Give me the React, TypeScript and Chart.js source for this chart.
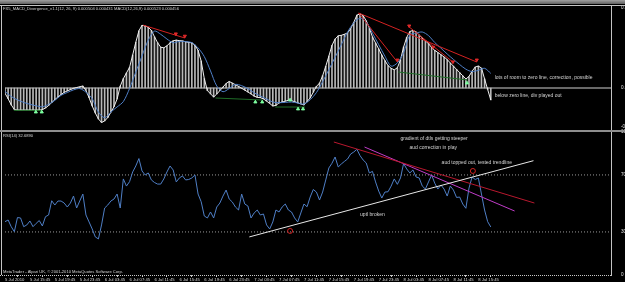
import React, { useEffect, useRef } from "react";
import { Chart, registerables } from "chart.js";

Chart.register(...registerables);

const FONT = '"Liberation Sans", Arial, sans-serif';

// time axis: one label every 16 bars (M15 chart, 4 hours)
const timeLabels = [
  "5 Jul 2010", "5 Jul 15:45", "5 Jul 19:45", "5 Jul 23:45", "6 Jul 03:45",
  "6 Jul 07:45", "6 Jul 11:45", "6 Jul 15:45", "6 Jul 19:45", "6 Jul 23:45",
  "7 Jul 03:45", "7 Jul 07:45", "7 Jul 11:45", "7 Jul 15:45", "7 Jul 19:45",
  "7 Jul 23:45", "8 Jul 03:45", "8 Jul 07:45", "8 Jul 11:45", "8 Jul 15:45",
];
const timeTickBars = [0, 16, 32, 48, 64, 80, 96, 112, 128, 144, 160, 176, 192, 208, 224, 240, 256, 272, 288, 304];
const X_MAX = 389.2; // bars visible incl. right shift

const HIST_STEP = 2; // bars between histogram / RSI samples
const SIGNAL_STEP = 4; // bars between signal samples

// MACD histogram (main)
const macdHist = [
  -1.40e-4, -2.82e-4, -4.44e-4, -5.68e-4, -5.81e-4, -5.81e-4, -5.81e-4, -5.81e-4, -5.81e-4, -5.81e-4,
  -5.81e-4, -5.81e-4, -5.70e-4, -5.28e-4, -4.62e-4, -3.85e-4, -3.09e-4, -2.35e-4, -1.74e-4, -1.14e-4,
  -0.77e-4, -0.42e-4, -0.08e-4, 0.13e-4, 0.32e-4, 0.53e-4, -0.66e-4, -2.56e-4, -4.73e-4, -6.60e-4,
  -8.16e-4, -9.11e-4, -8.69e-4, -7.81e-4, -6.39e-4, -4.94e-4, -2.90e-4, 0.48e-4, 2.46e-4, 3.96e-4,
  5.44e-4, 8.71e-4, 12.06e-4, 15.10e-4, 16.55e-4, 16.37e-4, 16.05e-4, 15.21e-4, 13.52e-4, 11.96e-4,
  10.77e-4, 10.61e-4, 11.14e-4, 11.93e-4, 12.46e-4, 12.62e-4, 12.51e-4, 12.43e-4, 12.20e-4, 12.05e-4,
  11.91e-4, 11.30e-4, 9.95e-4, 7.10e-4, 2.46e-4, -0.69e-4, -1.53e-4, -2.38e-4, -1.58e-4, -0.69e-4,
  0.24e-4, 1.19e-4, 1.72e-4, 1.29e-4, 0.87e-4, 0.42e-4, -0.08e-4, -0.55e-4, -1.06e-4, -1.56e-4,
  -2.14e-4, -2.46e-4, -2.56e-4, -2.88e-4, -3.46e-4, -4.09e-4, -4.75e-4, -4.59e-4, -3.93e-4, -3.70e-4,
  -3.48e-4, -3.25e-4, -3.35e-4, -3.62e-4, -3.91e-4, -4.20e-4, -4.46e-4, -3.59e-4, -2.61e-4, -1.11e-4,
  0.42e-4, 1.27e-4, 3.25e-4, 5.73e-4, 8.40e-4, 11.25e-4, 12.91e-4, 13.78e-4, 13.91e-4, 14.20e-4,
  14.52e-4, 15.68e-4, 17.32e-4, 19.25e-4, 19.56e-4, 19.11e-4, 17.74e-4, 15.84e-4, 13.46e-4, 11.88e-4,
  10.32e-4, 8.66e-4, 7.23e-4, 5.91e-4, 5.20e-4, 4.80e-4, 5.33e-4, 7.44e-4, 10.82e-4, 13.36e-4,
  14.92e-4, 15.18e-4, 14.84e-4, 13.99e-4, 13.20e-4, 12.46e-4, 11.70e-4, 10.67e-4, 9.95e-4, 9.37e-4,
  8.79e-4, 8.18e-4, 7.50e-4, 6.60e-4, 5.76e-4, 4.91e-4, 4.07e-4, 3.22e-4, 2.38e-4, 3.04e-4,
  4.44e-4, 5.54e-4, 5.78e-4, 5.28e-4, 2.40e-4, -0.40e-4, -3.17e-4,
];

// MACD signal line
const macdSignal = [
  -0.90e-4, -2.24e-4, -3.14e-4, -3.80e-4, -4.30e-4, -4.70e-4, -4.96e-4, -4.30e-4, -3.27e-4, -1.93e-4,
  -1.19e-4, -0.50e-4, -0.16e-4, -1.11e-4, -2.80e-4, -6.36e-4, -7.84e-4, -6.34e-4, -5.00e-4, -3.59e-4,
  -0.13e-4, 4.20e-4, 8.45e-4, 12.62e-4, 15.02e-4, 14.18e-4, 12.94e-4, 11.96e-4, 12.30e-4, 12.25e-4,
  11.99e-4, 10.59e-4, 8.29e-4, 4.51e-4, 0.53e-4, -0.98e-4, -0.13e-4, 0.95e-4, 0.61e-4, -0.16e-4,
  -1.27e-4, -2.11e-4, -2.90e-4, -3.70e-4, -3.88e-4, -3.80e-4, -3.70e-4, -3.96e-4, -4.22e-4, -3.09e-4,
  -1.21e-4, 1.66e-4, 4.86e-4, 8.10e-4, 11.46e-4, 14.76e-4, 17.21e-4, 18.40e-4, 17.45e-4, 14.47e-4,
  11.43e-4, 8.40e-4, 5.78e-4, 6.63e-4, 9.32e-4, 13.99e-4, 14.50e-4, 14.78e-4, 13.83e-4, 12.01e-4,
  10.51e-4, 8.98e-4, 7.55e-4, 6.20e-4, 4.96e-4, 4.33e-4, 4.67e-4, 5.20e-4, 3.85e-4,
];

// RSI(14)
const rsi = [
  37.2, 38.4, 33.7, 30.2, 40.1, 39.8, 33.7, 34.9, 37.7, 33.7,
  36.0, 38.0, 34.2, 40.7, 41.9, 51.9, 48.9, 51.7, 51.7, 50.3,
  47.5, 50.3, 55.2, 46.8, 51.7, 56.6, 41.9, 37.0, 32.1, 26.5,
  25.1, 34.9, 46.8, 48.9, 51.7, 53.1, 56.6, 46.8, 67.2, 62.2,
  65.3, 72.1, 76.3, 81.5, 72.8, 70.0, 71.4, 66.5, 64.7, 63.6,
  63.6, 67.2, 72.1, 76.3, 73.5, 65.1, 67.9, 69.3, 66.5, 66.8,
  67.9, 70.0, 56.6, 51.2, 41.2, 39.8, 44.0, 39.8, 47.5, 50.3,
  55.2, 59.4, 53.1, 51.0, 47.5, 45.4, 56.6, 49.6, 48.2, 39.8,
  43.3, 45.4, 41.9, 42.6, 34.9, 32.1, 37.0, 45.4, 44.0, 47.5,
  49.6, 45.4, 44.0, 39.8, 37.0, 43.3, 49.6, 47.7, 54.5, 59.8,
  58.0, 52.4, 58.0, 66.5, 74.9, 78.2, 82.6, 75.6, 77.7, 79.5,
  81.2, 84.7, 86.1, 88.0, 83.6, 80.5, 78.4, 71.4, 72.5, 65.1,
  58.7, 53.8, 58.0, 58.2, 62.2, 67.2, 63.4, 67.9, 78.0, 74.2,
  71.4, 73.5, 68.6, 67.9, 62.2, 60.1, 65.1, 70.0, 64.2, 60.1,
  62.9, 60.1, 55.2, 62.2, 59.4, 54.2, 54.5, 49.6, 46.6, 60.8,
  68.6, 66.8, 67.9, 56.6, 45.4, 37.2, 33.5,
];

// hand-drawn objects: [bar1, value1, bar2, value2]
const macdBearLines = [
  [88.7, 16.6e-4, 115.5, 13.2e-4],
  [227.1, 19.8e-4, 303.0, 6.86e-4],
  [227.1, 19.8e-4, 252.0, 6.86e-4],
  [259.6, 16.1e-4, 288.4, 6.6e-4],
];
const macdBullLines = [
  [5.7, -5.9e-4, 23.6, -5.9e-4],
  [135.2, -2.64e-4, 165.2, -3.17e-4],
  [173.5, -5.02e-4, 192.7, -5.02e-4],
  [252.6, 4.22e-4, 297.3, 2.11e-4],
];
const macdBearArrows = [
  [109.7, 14.3e-4], [115.5, 13.7e-4], [252.0, 7.4e-4], [259.6, 16.4e-4],
  [275.0, 10.8e-4], [287.7, 6.9e-4], [303.0, 7.4e-4],
];
const macdBullArrows = [
  [19.8, -6.34e-4], [23.6, -6.34e-4], [160.8, -3.7e-4], [165.2, -3.7e-4],
  [183.1, -3.17e-4], [188.2, -5.54e-4], [191.4, -5.54e-4], [296.7, 1.32e-4],
];
const rsiUpTrend = [156.9, 26.5, 339.4, 80.0];
const rsiDownTrendRed = [211.2, 93.1, 340.0, 50.3];
const rsiDownTrendViolet = [230.9, 89.6, 327.3, 44.7];
const rsiCircles = [[183.1, 30.7], [300.5, 72.8]];

const macdNotes = [
  { text: "lots of room to zero line, correction, possible", bar: 314.5, value: 2.64e-4 },
  { text: "below zero line, div played out", bar: 314.5, value: -2.11e-4 },
];
const rsiNotes = [
  { text: "gradient of dtls getting steeper", bar: 275.6, value: 95.2 },
  { text: "aud correction in play", bar: 275.0, value: 88.9 },
  { text: "aud topped out, tested trendline", bar: 303.0, value: 78.4 },
  { text: "uptl broken", bar: 236.0, value: 41.9 },
];

const macdTicks = [0.00211, 0, -0.00103];
const rsiTicks = [100, 70, 30, 0];
const rsiLevels = [70, 30];

const macdTitle = "FX5_MACD_Divergence_v1.1(12, 26, 9) 0.000504 0.000431 MACD(12,26,9) 0.000523 0.000456";
const rsiTitle = "RSI(14) 32.6890";
const copyright = "MetaTrader - Alpari UK, \u00a9 2001-2010 MetaQuotes Software Corp.";

const seg = (axis: string, s: number[], color: string, dash: number[] = [], order = 2) => ({
  type: "line",
  yAxisID: axis,
  data: [{ x: s[0], y: s[1] }, { x: s[2], y: s[3] }],
  borderColor: color,
  borderWidth: 1,
  borderDash: dash,
  pointRadius: 0,
  tension: 0,
  order,
});

const marks = (axis: string, pts: number[][], style: string, rot: number, fill: string, stroke: string, r: number) => ({
  type: "line",
  yAxisID: axis,
  showLine: false,
  data: pts.map((p) => ({ x: p[0], y: p[1] })),
  pointStyle: style,
  pointRotation: rot,
  pointRadius: r,
  pointBackgroundColor: fill,
  pointBorderColor: stroke,
  pointBorderWidth: 1,
  order: 0,
});

const decor = {
  id: "mtDecor",
  beforeDraw(chart: any) {
    const { ctx, width, height } = chart;
    ctx.save();
    ctx.fillStyle = "#000";
    ctx.fillRect(0, 0, width, height);
    const g = ctx.createLinearGradient(0, 0, 0, 5);
    g.addColorStop(0, "#a0a0a0");
    g.addColorStop(1, "#505050");
    ctx.fillStyle = g;
    ctx.fillRect(0, 0, width, 4);
    ctx.restore();
  },
  afterDraw(chart: any) {
    const { ctx, chartArea: ca, scales, width } = chart;
    const x = scales.x, yM = scales.yMacd, yR = scales.yRsi;
    ctx.save();
    ctx.fillStyle = "#c4c4c4";
    ctx.fillRect(0, 5, width, 1);
    ctx.fillRect(1, 5, 1, ca.bottom - 5);
    ctx.fillStyle = "#8e8e8e";
    ctx.fillRect(0, Math.round(yM.bottom) - 1, width, 2);
    ctx.fillStyle = "#c8c8c8";
    for (let px = 0; px < ca.right; px += 2) ctx.fillRect(px, ca.bottom, 1, 1);

    ctx.fillStyle = "#d4d4d4";
    ctx.textBaseline = "middle";
    ctx.font = `4.1px ${FONT}`;
    ctx.textAlign = "left";
    ctx.fillText(macdTitle, 3, 9);
    ctx.fillText(rsiTitle, 3, 136);
    ctx.fillText(copyright, 3, 272);

    ctx.font = `5px ${FONT}`;
    for (const n of macdNotes) {
      ctx.textAlign = "left";
      ctx.fillText(n.text, x.getPixelForValue(n.bar), yM.getPixelForValue(n.value));
    }
    for (const n of rsiNotes) {
      ctx.textAlign = "center";
      ctx.fillText(n.text, x.getPixelForValue(n.bar), yR.getPixelForValue(n.value));
    }
    ctx.restore();
  },
};

export default function App() {
  const ref = useRef<HTMLCanvasElement>(null);
  useEffect(() => {
    const histPts = macdHist.map((v, i) => ({ x: i * HIST_STEP, y: v }));
    const sigPts = macdSignal.map((v, i) => ({ x: i * SIGNAL_STEP, y: v }));
    const rsiPts = rsi.map((v, i) => ({ x: i * HIST_STEP, y: v }));

    const datasets: any[] = [
      seg("yMacd", [0, 0, X_MAX, 0], "#d0d0d0", [], 6),
      {
        type: "bar",
        yAxisID: "yMacd",
        data: histPts,
        backgroundColor: "#b8b8b8",
        barThickness: 1,
        grouped: false,
        order: 5,
      },
      {
        type: "line",
        yAxisID: "yMacd",
        data: histPts,
        borderColor: "#f0f0f0",
        borderWidth: 1,
        pointRadius: 0,
        tension: 0,
        order: 4,
      },
      {
        type: "line",
        yAxisID: "yMacd",
        data: sigPts,
        borderColor: "#4f7fc6",
        borderWidth: 1,
        pointRadius: 0,
        tension: 0.3,
        order: 3,
      },
      ...macdBearLines.map((s) => seg("yMacd", s, "#d42222")),
      ...macdBullLines.map((s) => seg("yMacd", s, "#1f6e28")),
      marks("yMacd", macdBearArrows, "triangle", 180, "#e02a2a", "#e02a2a", 1.8),
      marks("yMacd", macdBullArrows, "triangle", 0, "#7dffa0", "#7dffa0", 1.8),
      ...rsiLevels.map((v) => seg("yRsi", [0, v, X_MAX, v], "#9a9a9a", [1, 2], 6)),
      {
        type: "line",
        yAxisID: "yRsi",
        data: rsiPts,
        borderColor: "#4f7fc6",
        borderWidth: 1,
        pointRadius: 0,
        tension: 0,
        order: 3,
      },
      seg("yRsi", rsiUpTrend, "#e8e8e8"),
      seg("yRsi", rsiDownTrendRed, "#b8182e"),
      seg("yRsi", rsiDownTrendViolet, "#c03cc8"),
      marks("yRsi", rsiCircles, "circle", 0, "rgba(0,0,0,0)", "#d42222", 2.5),
    ];

    const tickFont = { family: FONT, size: 4.6 };
    const chart = new Chart(ref.current as HTMLCanvasElement, {
      type: "line",
      data: { datasets },
      plugins: [decor],
      options: {
        animation: false,
        responsive: false,
        devicePixelRatio: 1,
        events: [],
        layout: { padding: { left: 1, right: 0, top: 6, bottom: 0 } },
        plugins: { legend: { display: false }, tooltip: { enabled: false } },
        scales: {
          x: {
            type: "linear",
            min: 0,
            max: X_MAX,
            offset: false,
            afterBuildTicks: (s: any) => {
              s.ticks = timeTickBars.map((v) => ({ value: v }));
            },
            afterFit: (s: any) => {
              s.height = 7;
            },
            grid: { display: true, drawOnChartArea: false, drawTicks: true, tickLength: 2, color: "#c8c8c8" },
            border: { display: false },
            ticks: {
              autoSkip: false,
              maxRotation: 0,
              minRotation: 0,
              align: "start",
              padding: 0,
              color: "#d8d8d8",
              font: { family: FONT, size: 4.2 },
              callback: (_v: any, i: number) => timeLabels[i],
            },
          },
          yMacd: {
            type: "linear",
            position: "right",
            stack: "panes",
            stackWeight: 124.5,
            min: -0.001122,
            max: 0.002165,
            afterBuildTicks: (s: any) => {
              s.ticks = macdTicks.map((v) => ({ value: v }));
            },
            afterFit: (s: any) => {
              s.width = 14;
            },
            grid: { display: false },
            border: { display: true, color: "#c4c4c4", width: 1 },
            ticks: {
              autoSkip: false,
              padding: 2,
              color: "#e0e0e0",
              font: tickFont,
              callback: (v: any) => (v === 0 ? "0.00" : Number(v).toFixed(5)),
            },
          },
          yRsi: {
            type: "linear",
            position: "right",
            stack: "panes",
            stackWeight: 144.5,
            min: -0.21,
            max: 101.19,
            afterBuildTicks: (s: any) => {
              s.ticks = rsiTicks.map((v) => ({ value: v }));
            },
            afterFit: (s: any) => {
              s.width = 14;
            },
            grid: { display: false },
            border: { display: true, color: "#c4c4c4", width: 1 },
            ticks: {
              autoSkip: false,
              padding: 2,
              color: "#e0e0e0",
              font: tickFont,
              callback: (v: any) => String(v),
            },
          },
        },
      } as any,
    } as any);
    return () => chart.destroy();
  }, []);

  return (
    <div style={{ position: "fixed", left: 0, top: 0, width: 625, height: 282, background: "#000", overflow: "hidden" }}>
      <canvas ref={ref} width={625} height={282} style={{ display: "block", width: 625, height: 282 }} />
    </div>
  );
}
